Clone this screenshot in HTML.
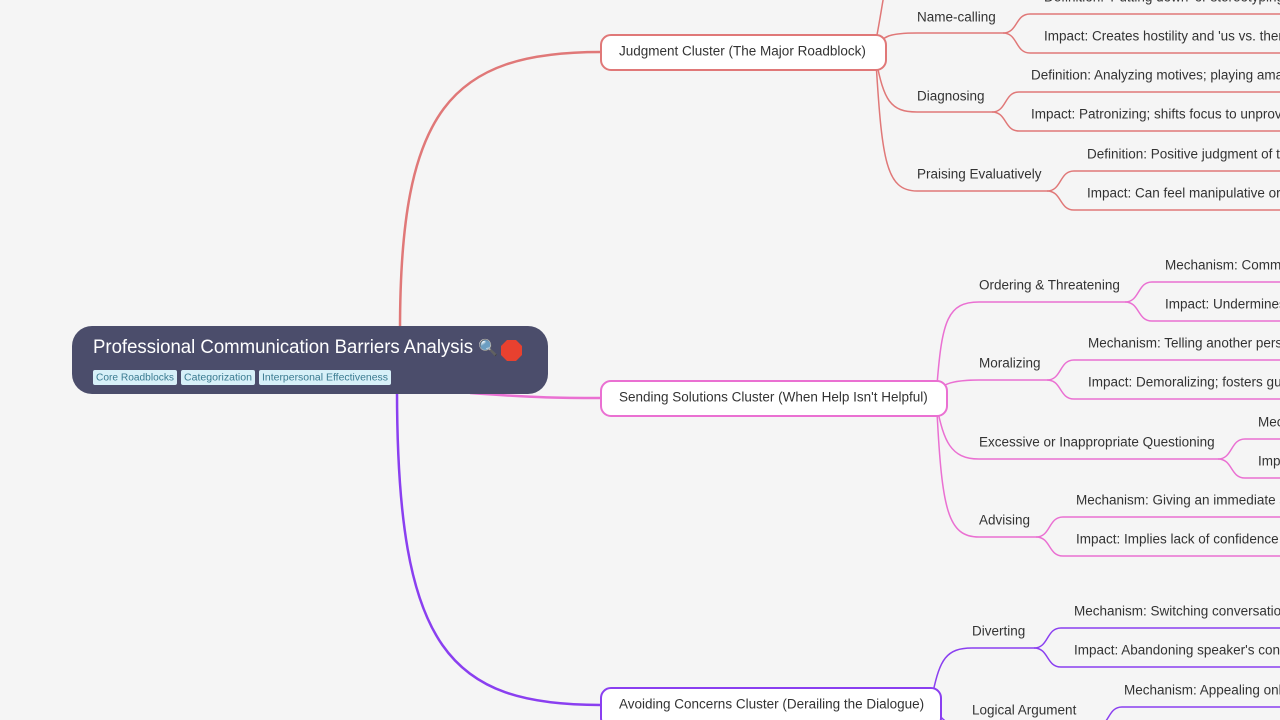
<!DOCTYPE html>
<html><head><meta charset="utf-8"><style>
html,body{margin:0;padding:0;background:#f5f5f5;width:1280px;height:720px;overflow:hidden}
svg{display:block}
text{font-family:"Liberation Sans",sans-serif;font-size:13.5px;fill:#333;dominant-baseline:middle}
</style></head><body>
<svg width="1280" height="720" viewBox="0 0 1280 720">
<g fill="none" stroke-width="2.5">
<path d="M400,330 C400,110 450,52 601,52" stroke="#e07878"/>
<path d="M470,393 C540,398 560,398 601,398" stroke="#ea70d2"/>
<path d="M397,390 C397,650 450,705 601,705" stroke="#8a3ff0"/>
</g>
<g fill="none" stroke="#e07878" stroke-width="1.5">
<path d="M876,40 C880,20 882,5 884,-5"/>
<path d="M876,48 C882,36 890,33 917,33 L1003,33"/>
<path d="M1003,33 C1018,33 1015,14 1030,14 L1280,14"/>
<path d="M1003,33 C1018,33 1015,53 1030,53 L1280,53"/>
<path d="M876,60 C884,100 890,112 917,112 L992,112"/>
<path d="M992,112 C1007,112 1004,92 1019,92 L1280,92"/>
<path d="M992,112 C1007,112 1004,131 1019,131 L1280,131"/>
<path d="M876,62 C882,160 886,191 917,191 L1047,191"/>
<path d="M1047,191 C1062,191 1059,171 1074,171 L1280,171"/>
<path d="M1047,191 C1062,191 1059,210 1074,210 L1280,210"/>
</g>
<g fill="none" stroke="#ea70d2" stroke-width="1.5">
<path d="M937,385 C942,320 948,302 979,302 L1125,302"/>
<path d="M1125,302 C1140,302 1137,282 1152,282 L1280,282"/>
<path d="M1125,302 C1140,302 1137,321 1152,321 L1280,321"/>
<path d="M937,390 C944,385 950,380 979,380 L1047,380"/>
<path d="M1047,380 C1062,380 1059,360 1074,360 L1280,360"/>
<path d="M1047,380 C1062,380 1059,399 1074,399 L1280,399"/>
<path d="M937,408 C944,440 950,459 979,459 L1218,459"/>
<path d="M1218,459 C1233,459 1230,439 1245,439 L1280,439"/>
<path d="M1218,459 C1233,459 1230,478 1245,478 L1280,478"/>
<path d="M937,412 C942,510 948,537 979,537 L1036,537"/>
<path d="M1036,537 C1051,537 1048,517 1063,517 L1280,517"/>
<path d="M1036,537 C1051,537 1048,556 1063,556 L1280,556"/>
</g>
<g fill="none" stroke="#8a3ff0" stroke-width="1.5">
<path d="M933,692 C940,660 946,648 972,648 L1034,648"/>
<path d="M1034,648 C1049,648 1046,628 1061,628 L1280,628"/>
<path d="M1034,648 C1049,648 1046,667 1061,667 L1280,667"/>
<path d="M937,712 C944,722 950,727 972,727 L1095,727"/>
<path d="M1095,727 C1110,727 1107,707 1122,707 L1280,707"/>
</g>
<rect x="72" y="326" width="476" height="68" rx="20" fill="#4b4d6b"/>
<text x="93" y="348" textLength="380" lengthAdjust="spacingAndGlyphs" style="font-size:19px;fill:#fff">Professional Communication Barriers Analysis</text>
<text x="478" y="349" style="font-size:16px">🔍</text>
<polygon points="507,340 516,340 522,346 522,355 516,361 507,361 501,355 501,346" fill="#e8412f"/>
<rect x="93" y="370" width="84" height="15" rx="2" fill="#d7f0f8"/><text x="96" y="378" textLength="78" lengthAdjust="spacingAndGlyphs" style="font-size:10px;fill:#3a7a90">Core Roadblocks</text>
<rect x="181" y="370" width="74" height="15" rx="2" fill="#d7f0f8"/><text x="184" y="378" textLength="68" lengthAdjust="spacingAndGlyphs" style="font-size:10px;fill:#3a7a90">Categorization</text>
<rect x="259" y="370" width="132" height="15" rx="2" fill="#d7f0f8"/><text x="262" y="378" textLength="126" lengthAdjust="spacingAndGlyphs" style="font-size:10px;fill:#3a7a90">Interpersonal Effectiveness</text>
<rect x="601" y="35" width="285" height="35" rx="10" fill="#fff" stroke="#e07878" stroke-width="2"/>
<text x="619" y="52">Judgment Cluster (The Major Roadblock)</text>
<rect x="601" y="381" width="346" height="35" rx="10" fill="#fff" stroke="#ea70d2" stroke-width="2"/>
<text x="619" y="398">Sending Solutions Cluster (When Help Isn't Helpful)</text>
<rect x="601" y="688" width="340" height="40" rx="10" fill="#fff" stroke="#8a3ff0" stroke-width="2"/>
<text x="619" y="705">Avoiding Concerns Cluster (Derailing the Dialogue)</text>
<text x="917" y="18">Name-calling</text>
<text x="1044" y="-2">Definition: 'Putting down' or stereotyping the other person</text>
<text x="1044" y="37">Impact: Creates hostility and 'us vs. them' dynamics</text>
<text x="917" y="97">Diagnosing</text>
<text x="1031" y="76">Definition: Analyzing motives; playing amateur psychologist</text>
<text x="1031" y="115">Impact: Patronizing; shifts focus to unproven assumptions</text>
<text x="917" y="175">Praising Evaluatively</text>
<text x="1087" y="155">Definition: Positive judgment of the other</text>
<text x="1087" y="194">Impact: Can feel manipulative or insincere</text>
<text x="979" y="286">Ordering &amp; Threatening</text>
<text x="1165" y="266">Mechanism: Commanding</text>
<text x="1165" y="305">Impact: Undermines autonomy</text>
<text x="979" y="364">Moralizing</text>
<text x="1088" y="344">Mechanism: Telling another person what they should do</text>
<text x="1088" y="383">Impact: Demoralizing; fosters guilt</text>
<text x="979" y="443">Excessive or Inappropriate Questioning</text>
<text x="1258" y="423">Mechanism</text>
<text x="1258" y="462">Impact</text>
<text x="979" y="521">Advising</text>
<text x="1076" y="501">Mechanism: Giving an immediate solution</text>
<text x="1076" y="540">Impact: Implies lack of confidence</text>
<text x="972" y="632">Diverting</text>
<text x="1074" y="612">Mechanism: Switching conversation focus</text>
<text x="1074" y="651">Impact: Abandoning speaker's concerns</text>
<text x="972" y="711">Logical Argument</text>
<text x="1124" y="691">Mechanism: Appealing only to facts</text>
</svg>
</body></html>
